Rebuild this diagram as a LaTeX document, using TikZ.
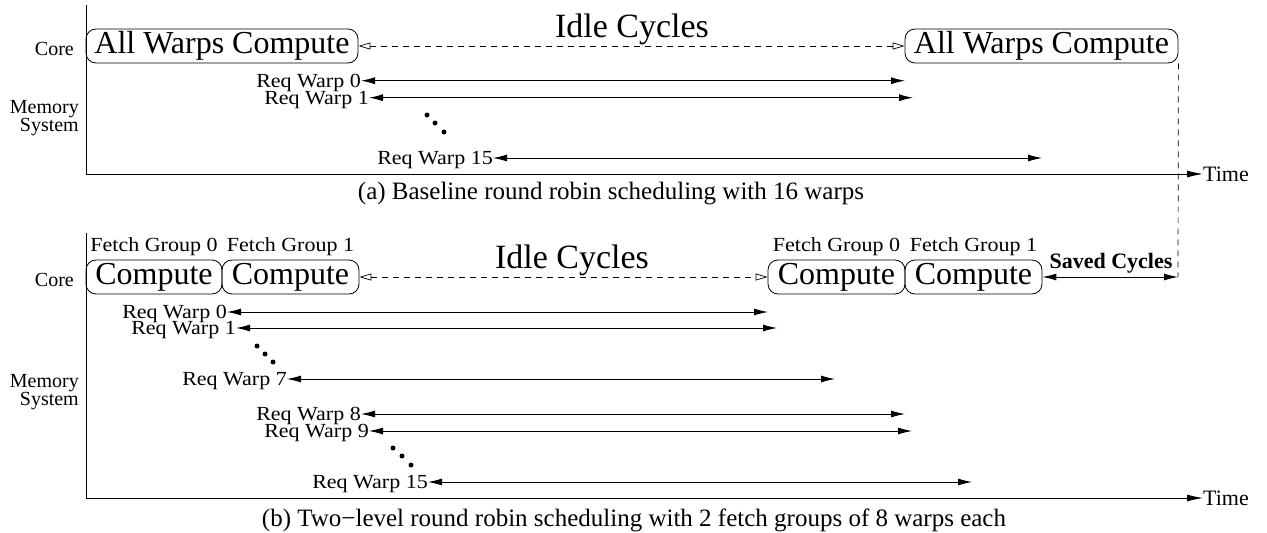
\documentclass[tikz,border=0pt]{standalone}
\usepackage{fontspec}
\setmainfont{Liberation Serif}
\newfontfamily\widefont[FakeStretch=1.1]{Liberation Serif}
\usetikzlibrary{arrows.meta}
\begin{document}
\begin{tikzpicture}[x=1pt,y=-1pt,
  every node/.style={inner sep=0pt, font=\fontsize{20}{18}\selectfont},
  widetxt/.style={font=\widefont\fontsize{20}{18}\selectfont},
  bigtxt/.style={font=\fontsize{32}{34}\selectfont},
  idletxt/.style={font=\fontsize{34}{36}\selectfont},
  captxt/.style={font=\fontsize{25}{27}\selectfont},
  cbox/.style={draw, rounded corners=10pt, minimum height=34pt, bigtxt, inner sep=0pt, line width=0.8pt},
  lbl/.style={anchor=east, text depth=0pt},
  reqlbl/.style={anchor=east, text depth=0pt, widetxt},
  req/.style={line width=0.9pt, {Latex[length=14pt,width=7pt]}-{Latex[length=14pt,width=7pt]}},
  idle/.style={dash pattern=on 6pt off 5pt, line width=0.7pt, {Triangle[open,length=12pt,width=7pt]}-{Triangle[open,length=12pt,width=7pt]}},
  axisline/.style={line width=1pt, -{Latex[length=16pt,width=7pt]}},
  wdot/.style={fill, circle, minimum size=5pt, inner sep=0pt},
  timelbl/.style={anchor=west, text depth=0pt, font=\fontsize{22}{24}\selectfont},
]
\useasboundingbox (0,0) rectangle (1267,533);

% ---------- panel (a) ----------
\coordinate (atop) at (86,5);
\coordinate (acorner) at (86,174);
\coordinate (atip) at (1203,174);
\draw[axisline] (atop) -- (acorner) -- (atip);
\node[timelbl] (atime) at (atip) {Time};

\node[lbl] (acore) at (74,49) {Core};
\node[anchor=east, align=right] (amem) at (79,118) {Memory\\System};

\node[cbox, minimum width=272pt] (a1) at (222,46) {All Warps Compute};
\node[cbox, minimum width=273pt] (a2) at (1041.5,46) {All Warps Compute};
\draw[idle] (a1.east) -- (a2.west);
\node[idletxt, anchor=base] (aidle) at (632,37) {Idle Cycles};

\node[reqlbl] (ar0) at (361,80.7) {Req Warp 0};
\coordinate (ae0) at (905,80.7);
\draw[req] (ar0.east) -- (ae0);
\node[reqlbl] (ar1) at (369,97.7) {Req Warp 1};
\coordinate (ae1) at (913,97.7);
\draw[req] (ar1.east) -- (ae1);
\node[wdot] (ad1) at (427,115) {};
\node[wdot] (ad2) at (435,123) {};
\node[wdot] (ad3) at (444,132) {};
\node[reqlbl] (ar15) at (493,158) {Req Warp 15};
\coordinate (ae15) at (1042,158);
\draw[req] (ar15.east) -- (ae15);

\node[captxt] (acap) at (611,194) {(a) Baseline round robin scheduling with 16 warps};

% ---------- panel (b) ----------
\coordinate (btop) at (86,233);
\coordinate (bcorner) at (86,498);
\coordinate (btip) at (1203,498);
\draw[axisline] (btop) -- (bcorner) -- (btip);
\node[timelbl] (btime) at (btip) {Time};

\node[lbl] (bcore) at (74,280) {Core};
\node[anchor=east, align=right] (bmem) at (79,392) {Memory\\System};

\node[cbox, minimum width=136pt] (b1) at (154,277) {Compute};
\node[cbox, minimum width=137pt] (b2) at (290.5,277) {Compute};
\node[cbox, minimum width=137pt] (b3) at (836.5,277) {Compute};
\node[cbox, minimum width=137pt] (b4) at (973.5,277) {Compute};
\node[widetxt, anchor=base] (fg1) at ([yshift=8pt]b1.north) {Fetch Group 0};
\node[widetxt, anchor=base] (fg2) at ([yshift=8pt]b2.north) {Fetch Group 1};
\node[widetxt, anchor=base] (fg3) at ([yshift=8pt]b3.north) {Fetch Group 0};
\node[widetxt, anchor=base] (fg4) at ([yshift=8pt]b4.north) {Fetch Group 1};
\draw[idle] (b2.east) -- (b3.west);
\node[idletxt, anchor=base] (bidle) at (572,268) {Idle Cycles};

\coordinate (sv) at (1178,277);
\draw[dash pattern=on 6pt off 5pt, line width=0.7pt] (a2.south east) -- (sv);
\draw[req] (b4.east) -- (sv);
\node[font=\bfseries\fontsize{22}{22}\selectfont] (saved) at (1111,263) {Saved Cycles};

\node[reqlbl] (br0) at (227,312) {Req Warp 0};
\coordinate (be0) at (768,312);
\draw[req] (br0.east) -- (be0);
\node[reqlbl] (br1) at (236,328) {Req Warp 1};
\coordinate (be1) at (777,328);
\draw[req] (br1.east) -- (be1);
\node[wdot] (bd1) at (257,346) {};
\node[wdot] (bd2) at (265,354) {};
\node[wdot] (bd3) at (273,362) {};
\node[reqlbl] (br7) at (287,379) {Req Warp 7};
\coordinate (be7) at (835,379);
\draw[req] (br7.east) -- (be7);
\node[reqlbl] (br8) at (361,414) {Req Warp 8};
\coordinate (be8) at (905,414);
\draw[req] (br8.east) -- (be8);
\node[reqlbl] (br9) at (369,431) {Req Warp 9};
\coordinate (be9) at (912,431);
\draw[req] (br9.east) -- (be9);
\node[wdot] (bd4) at (393,448) {};
\node[wdot] (bd5) at (402,456) {};
\node[wdot] (bd6) at (411,465) {};
\node[reqlbl] (br15) at (428,482) {Req Warp 15};
\coordinate (be15) at (972,482);
\draw[req] (br15.east) -- (be15);

\node[captxt] (bcap) at (634,520) {(b) Two−level round robin scheduling with 2 fetch groups of 8 warps each};
\end{tikzpicture}
\end{document}
